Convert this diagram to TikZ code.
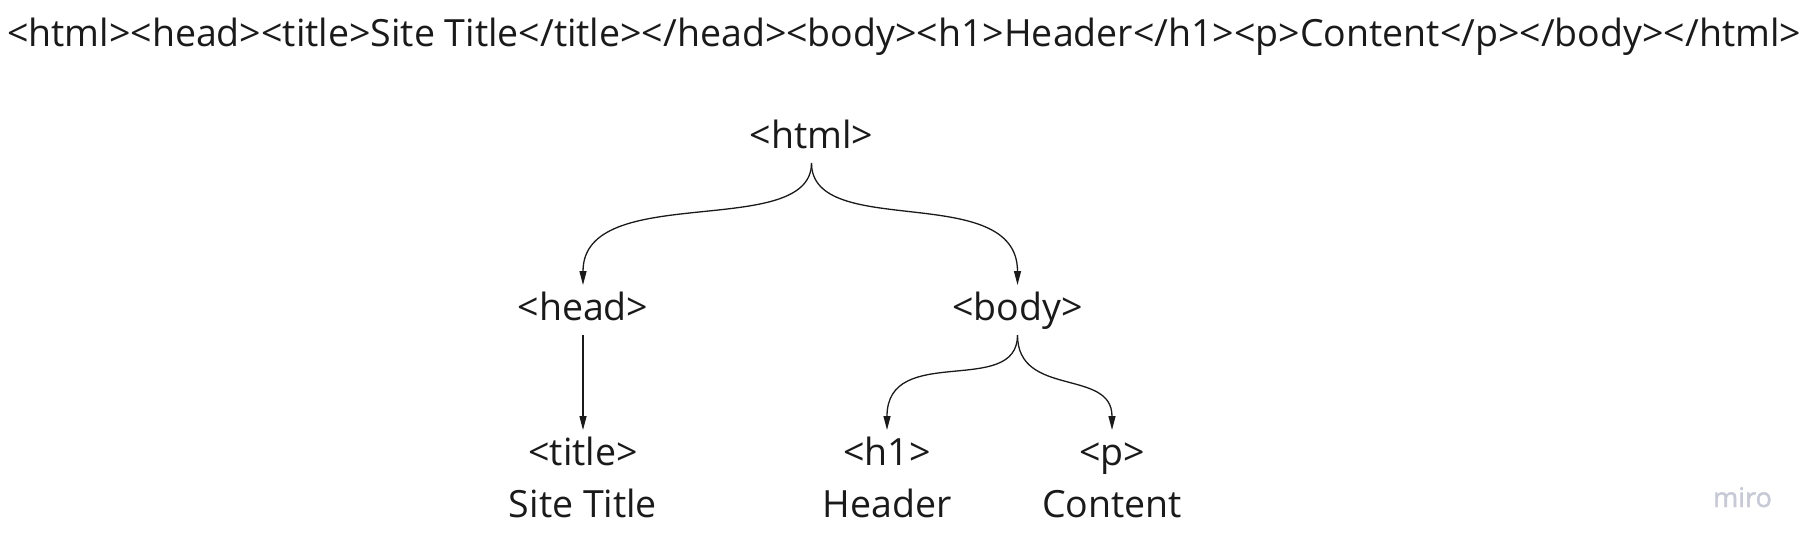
\documentclass[tikz,border=0pt]{standalone}
\usepackage{fontspec}
\setmainfont{Open Sans}
\definecolor{inkgray}{RGB}{26, 26, 26}
\definecolor{logogray}{RGB}{200, 201, 215}
\usetikzlibrary{arrows.meta, positioning}
\tikzset{
	tag/.style={inner sep=0pt, outer sep=9pt, text height=26pt, text depth=9pt, align=center, text=inkgray, font=\fontsize{37.5}{44}\selectfont},
	leaf/.style={tag, outer sep=0pt},
	link/.style={-{Triangle[length=14pt, width=7pt]}, line width=1.3pt, draw=inkgray, shorten <=-3pt},
}

\begin{document}
\begin{tikzpicture}[x=1pt, y=-1pt, on grid]
		\useasboundingbox (0,0) rectangle (1814,550);
		\node[tag] (source) at (904,37.5) {<html><head><title>Site Title</title></head><body><h1>Header</h1><p>Content</p></body></html>};
		\node[tag] (html) at (811.5,139.5) {<html>};
		\node[tag, below left=172pt and 228.5pt of html] (head) {<head>};
		\node[tag, below right=172pt and 206pt of html] (body) {<body>};
		\node[tag, below=145pt of head] (title) {<title>};
		\node[tag, below left=145pt and 130.5pt of body] (h1) {<h1>};
		\node[tag, below right=145pt and 94.5pt of body] (p) {<p>};
		\node[leaf, below=52pt of title] (sitetitle) {Site Title};
		\node[leaf, below=52pt of h1] (header) {Header};
		\node[leaf, below=52pt of p] (content) {Content};
		\node[anchor=base, inner sep=0pt, text=logogray, font=\fontsize{27}{32}\selectfont\addfontfeature{FakeBold=1.5}] (miro) at (1742.5,507) {miro};
		\draw[link] (html.south) .. controls +(0,75) and +(0,-105) .. (head.north);
		\draw[link] (html.south) .. controls +(0,75) and +(0,-105) .. (body.north);
		\draw[link] (head) -- (title);
		\draw[link] (body.south) .. controls +(0,60) and +(0,-88) .. (h1.north);
		\draw[link] (body.south) .. controls +(0,60) and +(0,-62) .. (p.north);
	\end{tikzpicture}
\end{document}
